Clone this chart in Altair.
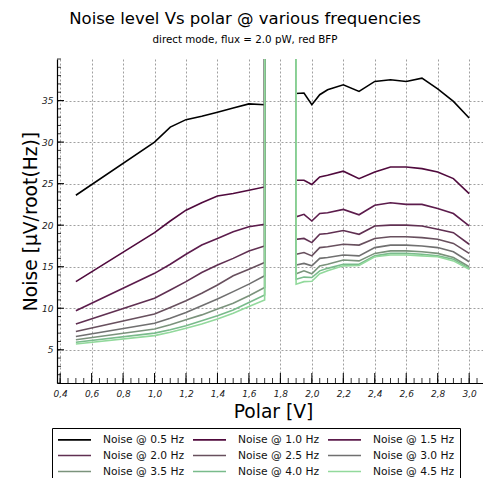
import altair as alt
import pandas as pd

# ---------------- data ----------------
series_names = [
    "Noise @ 0.5 Hz", "Noise @ 1.0 Hz", "Noise @ 1.5 Hz",
    "Noise @ 2.0 Hz", "Noise @ 2.5 Hz", "Noise @ 3.0 Hz",
    "Noise @ 3.5 Hz", "Noise @ 4.0 Hz", "Noise @ 4.5 Hz",
]
series_colors = [
    "#000000", "#500a3d", "#5c1c4c", "#603052", "#68505e",
    "#707070", "#7b937c", "#79bb8b", "#92d99c",
]

polar = [0.5, 1.0, 1.1, 1.2, 1.3, 1.4, 1.5, 1.6, 1.7, 1.8,
         1.9, 1.95, 2.0, 2.05, 2.1, 2.2, 2.3, 2.4, 2.5, 2.6, 2.7, 2.8, 2.9, 3.0]

noise_05 = [23.6, 30.0, 31.8, 32.7, 33.1, 33.6, 34.1, 34.6, 34.5, 10000,
            35.85, 35.9, 34.5, 35.7, 36.3, 36.9, 36.1, 37.3, 37.5, 37.3, 37.7, 36.4, 34.9, 32.9]
noise_10 = [13.2, 19.1, 20.5, 21.8, 22.7, 23.5, 23.8, 24.2, 24.6, 10000,
            25.4, 25.4, 24.9, 25.8, 26.0, 26.5, 25.6, 26.4, 27.0, 27.0, 26.8, 26.4, 25.6, 23.8]
noise_15 = [9.7, 14.2, 15.3, 16.5, 17.6, 18.4, 19.2, 19.8, 20.1, 10000,
            21.0, 21.3, 20.5, 21.4, 21.5, 21.9, 21.25, 22.4, 22.7, 22.5, 22.5, 22.0, 21.4, 19.9]
noise_20 = [8.1, 11.2, 12.2, 13.2, 14.3, 15.2, 16.0, 16.9, 17.5, 10000,
            18.3, 18.4, 17.9, 18.9, 19.0, 19.35, 18.9, 19.9, 20.0, 20.0, 19.9, 19.5, 19.1, 17.7]
noise_25 = [7.2, 9.3, 10.1, 10.9, 11.8, 12.8, 13.9, 14.7, 15.5, 10000,
            16.5, 16.7, 16.3, 17.3, 17.4, 17.7, 17.6, 18.4, 18.6, 18.6, 18.5, 18.3, 17.8, 16.6]
noise_30 = [6.6, 8.2, 8.8, 9.5, 10.3, 11.1, 12.0, 12.9, 13.9, 10000,
            15.2, 15.4, 15.1, 16.0, 16.1, 16.4, 16.3, 17.3, 17.6, 17.6, 17.5, 17.3, 16.8, 15.6]
noise_35 = [6.2, 7.5, 8.0, 8.6, 9.2, 9.9, 10.6, 11.5, 12.5, 10000,
            14.15, 14.5, 14.15, 15.1, 15.3, 15.8, 15.7, 16.6, 16.9, 16.9, 16.8, 16.6, 16.1, 15.0]
noise_40 = [5.9, 7.0, 7.4, 7.9, 8.5, 9.1, 9.8, 10.7, 11.6, 10000,
            13.5, 13.75, 13.7, 14.5, 14.8, 15.3, 15.3, 16.3, 16.6, 16.6, 16.5, 16.3, 15.9, 14.8]
noise_45 = [5.7, 6.7, 7.1, 7.6, 8.1, 8.7, 9.4, 10.2, 11.0, 10000,
            12.9, 13.2, 13.25, 14.15, 14.5, 15.1, 15.15, 16.2, 16.4, 16.4, 16.3, 16.2, 15.7, 14.7]

all_series = [noise_05, noise_10, noise_15, noise_20, noise_25,
              noise_30, noise_35, noise_40, noise_45]

x_label_values = [0.4, 0.6, 0.8, 1.0, 1.2, 1.4, 1.6, 1.8, 2.0, 2.2, 2.4, 2.6, 2.8, 3.0]
y_label_values = [5, 10, 15, 20, 25, 30, 35]
x_minor_ticks = [round(0.4 + 0.05 * i, 2) for i in range(54)]
y_minor_ticks = list(range(1, 41))

# ---------------- tables ----------------
rows = []
for name, vals in zip(series_names, all_series):
    for xv, yv in zip(polar, vals):
        rows.append({"polar": xv, "noise": yv, "series": name})
df = pd.DataFrame(rows)

W, H = 426, 324
x_scale = alt.Scale(domain=[0.38, 3.088], nice=False, zero=False)
y_scale = alt.Scale(domain=[1, 40], nice=False, zero=False)

x_axis = alt.Axis(values=x_label_values, title="Polar [V]",
                  labelExpr="replace(format(datum.value, '.1f'), '.', ',')",
                  labelOverlap=False, labelBound=False, labelFlush=False,
                  labelPadding=6, titleY=28, titleX=216,
                  titleBaseline="middle", titleFontSize=18.7)
y_axis = alt.Axis(values=y_label_values, title="Noise [μV/root(Hz)]",
                  labelOverlap=False, labelPadding=4, titleX=-27, titleY=H / 2,
                  titleBaseline="middle", titleAlign="center", titleFontSize=18.7)

lines = alt.Chart(df).mark_line(clip=True, strokeWidth=1.6).encode(
    x=alt.X("polar:Q", scale=x_scale, axis=x_axis),
    y=alt.Y("noise:Q", scale=y_scale, axis=y_axis),
    color=alt.Color("series:N",
                    scale=alt.Scale(domain=series_names, range=series_colors),
                    legend=alt.Legend(title=None, orient="none", legendX=-5, legendY=369,
                                      columns=3, direction="horizontal",
                                      symbolType="M-1,0H5", symbolSize=121,
                                      symbolStrokeWidth=1.6, labelOffset=33,
                                      labelFontSize=10.7, labelFont="DejaVu Sans",
                                      labelColor="#111", columnPadding=4, rowPadding=4,
                                      padding=5, strokeColor="black")),
)

y_minor = alt.Chart(pd.DataFrame({"v": y_minor_ticks})).mark_rule(
    color="black", strokeWidth=0.8).encode(
    y=alt.Y("v:Q", scale=y_scale, axis=y_axis), x=alt.value(0), x2=alt.value(4))
y_major = alt.Chart(pd.DataFrame({"v": y_label_values})).mark_rule(
    color="black", strokeWidth=1).encode(
    y=alt.Y("v:Q", scale=y_scale, axis=y_axis), x=alt.value(0), x2=alt.value(7))
x_minor = alt.Chart(pd.DataFrame({"p": x_minor_ticks})).mark_rule(
    color="black", strokeWidth=0.8).encode(
    x=alt.X("p:Q", scale=x_scale, axis=x_axis), y=alt.value(H), y2=alt.value(H - 5))
x_major = alt.Chart(pd.DataFrame({"p": x_label_values})).mark_rule(
    color="black", strokeWidth=1).encode(
    x=alt.X("p:Q", scale=x_scale, axis=x_axis), y=alt.value(H), y2=alt.value(H - 10))

chart = alt.layer(lines, y_minor, y_major, x_minor, x_major).properties(
    width=W, height=H,
    autosize=alt.AutoSizeParams(type="none"),
    padding={"left": 49, "top": 51, "right": 0, "bottom": 95},
    title=alt.TitleParams(
        text="Noise level Vs polar @ various frequencies",
        subtitle="direct mode, flux = 2.0 pW, red BFP",
        font="DejaVu Sans", fontSize=16.5, fontWeight="normal", color="black",
        subtitleFont="DejaVu Sans", subtitleFontSize=10.3, subtitleColor="black",
        subtitlePadding=8, anchor="middle", frame="group", dx=-25, offset=13),
).configure_view(stroke=None).configure_axis(
    domainColor="black", domainWidth=1.2, ticks=False, labelOverlap=False,
    labelFont="DejaVu Sans", labelFontStyle="italic", labelFontSize=9,
    labelColor="#222", titleFont="DejaVu Sans", titleFontWeight="normal",
    titleColor="black", gridColor="#888", gridDash=[2, 2], gridWidth=0.8,
    gridOpacity=1,
)

chart.save("out.html", embed_options={"renderer": "svg", "actions": False})
